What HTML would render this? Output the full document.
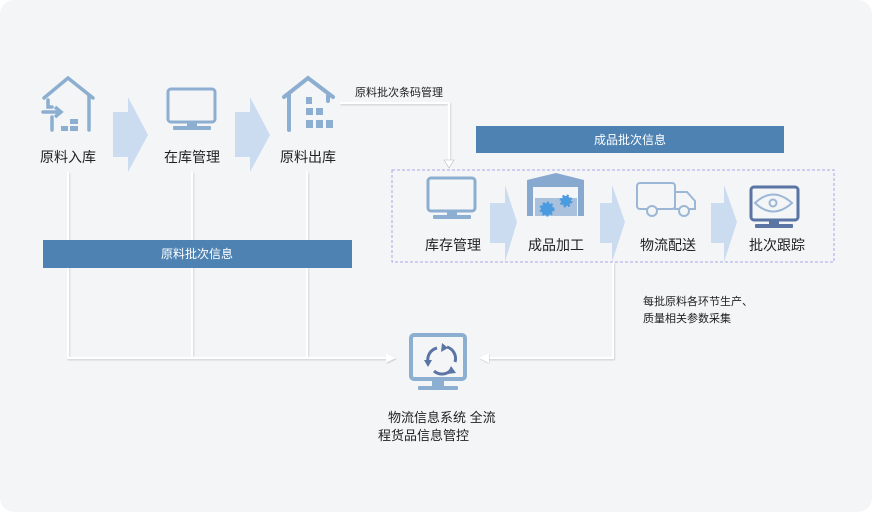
<!DOCTYPE html>
<html><head><meta charset="utf-8"><style>
html,body{margin:0;padding:0;background:#fff;}
svg{display:block;}
text{font-family:"Liberation Sans","Noto Sans CJK SC",sans-serif;fill:#222;}
</style></head><body>
<svg width="872" height="512" viewBox="0 0 872 512" xmlns="http://www.w3.org/2000/svg">
<defs>
<filter id="sh" x="-5%" y="-5%" width="110%" height="110%"><feDropShadow dx="0.6" dy="0.8" stdDeviation="0.6" flood-color="#999" flood-opacity="0.6"/></filter>
</defs>
<rect x="0" y="0" width="872" height="512" rx="14" fill="#f4f5f7"/>

<g fill="#cbdcf1">
<polygon points="113,112 128,112 128,97 148,135 128,172 128,157 113,157"/>
<polygon points="235,112 250,112 250,97 270,135 250,172 250,157 235,157"/>
<polygon points="490,203 505,203 505,185 517,222 505,262 505,243 490,243"/>
<polygon points="600,203 612,203 612,185 625,222 612,262 612,243 600,243"/>
<polygon points="711,203 724,203 724,185 737,222 724,262 724,243 711,243"/>
</g>

<g stroke="#fff" stroke-width="2.5" fill="none" filter="url(#sh)">
<polyline points="68,172 68,358 388,358"/>
<line x1="192" y1="172" x2="192" y2="358"/>
<line x1="307" y1="172" x2="307" y2="358"/>
<polyline points="613,262 613,358 486,358"/>
<polyline points="340,103 449,103 449,162"/>
</g>
<polygon points="386,353 396,358 386,363" fill="#fff" filter="url(#sh)"/>
<polygon points="489,353 479,358 489,363" fill="#fff" filter="url(#sh)"/>
<polygon points="444,160 449,168 454,160" fill="#fff" stroke="#bbb" stroke-width="0.6"/>

<rect x="476" y="126" width="308" height="27" fill="#4d82b3"/>
<text x="630" y="144" text-anchor="middle" font-size="12" style="fill:#fff">成品批次信息</text>
<rect x="43" y="240" width="309" height="28" fill="#4d82b3"/>
<text x="197" y="258" text-anchor="middle" font-size="12" style="fill:#fff">原料批次信息</text>

<rect x="392" y="170" width="442" height="92" fill="none" stroke="#a9a6e8" stroke-width="1" stroke-dasharray="3,2"/>

<g stroke="#8caed0" stroke-width="3.5" fill="none" stroke-linecap="round">
<polyline points="44,98 68,78 93,98"/>
<line x1="89" y1="95" x2="89" y2="130"/>
<polyline points="48,100 48,107 52,107"/>
<line x1="52" y1="117" x2="52" y2="130"/>
<line x1="43" y1="112" x2="59" y2="112"/>
<polyline points="55,107 61,112 55,117" stroke-linecap="butt"/>
</g>
<g fill="#8caed0"><rect x="61" y="126" width="7" height="5"/><rect x="70" y="126" width="8" height="5"/><rect x="70" y="119" width="8" height="5"/></g>

<rect x="168" y="89" width="47" height="33" rx="3" fill="none" stroke="#8caed0" stroke-width="3"/>
<rect x="187" y="122" width="10" height="4" fill="#8caed0"/>
<rect x="173" y="126" width="38" height="4" rx="1" fill="#8caed0"/>

<g stroke="#8caed0" stroke-width="4" fill="none" stroke-linecap="round">
<polyline points="284,97 308,78 333,97"/>
<line x1="289" y1="95" x2="289" y2="130"/>
<line x1="328" y1="96" x2="328" y2="101"/>
</g>
<g fill="#8caed0">
<rect x="306" y="97" width="6" height="7"/><rect x="306" y="108" width="7" height="7"/><rect x="316" y="108" width="7" height="7"/>
<rect x="306" y="120" width="7" height="8"/><rect x="316" y="120" width="7" height="8"/><rect x="326" y="120" width="7" height="8"/>
</g>

<text x="40" y="162" font-size="14">原料入库</text>
<text x="164" y="162" font-size="14">在库管理</text>
<text x="280" y="162" font-size="14">原料出库</text>
<text x="355" y="96" font-size="11">原料批次条码管理</text>

<rect x="428" y="178" width="47" height="33" rx="3" fill="none" stroke="#8caed0" stroke-width="3"/>
<rect x="447" y="211" width="10" height="4" fill="#8caed0"/>
<rect x="433" y="215" width="38" height="4" rx="1" fill="#8caed0"/>

<polygon points="527,180 556,173 584,180 584,216 578,216 578,187 533,187 533,216 527,216" fill="#88a9cf"/>
<rect x="535" y="198" width="42" height="18" fill="#a9c1dd"/>
<circle cx="547" cy="209" r="6" fill="#4a9be0" stroke="#4a9be0" stroke-width="3" stroke-dasharray="2,2"/>
<circle cx="566" cy="201" r="5" fill="#4a9be0" stroke="#4a9be0" stroke-width="3" stroke-dasharray="2,2"/>

<g stroke="#9cb7d6" stroke-width="2" fill="none">
<rect x="637" y="183" width="38" height="26" rx="3"/>
<path d="M675,192 h12 l8,9 v8 h-20z"/>
<circle cx="652" cy="211" r="5" fill="#f4f5f7"/>
<circle cx="684" cy="211" r="5" fill="#f4f5f7"/>
</g>

<rect x="751" y="187" width="47" height="33" rx="3" fill="none" stroke="#5a74a4" stroke-width="3"/>
<path d="M755,203 Q773,186 792,203 Q773,220 755,203z" fill="none" stroke="#9cb7d6" stroke-width="2"/>
<circle cx="773" cy="203" r="3.5" fill="none" stroke="#9cb7d6" stroke-width="2"/>
<rect x="769" y="220" width="10" height="4" fill="#5a74a4"/>
<rect x="755" y="224" width="38" height="4" rx="1" fill="#5a74a4"/>

<text x="425" y="250" font-size="14">库存管理</text>
<text x="528" y="250" font-size="14">成品加工</text>
<text x="640" y="250" font-size="14">物流配送</text>
<text x="749" y="250" font-size="14">批次跟踪</text>

<text x="643" y="305" font-size="11">每批原料各环节生产、</text>
<text x="643" y="322" font-size="11">质量相关参数采集</text>

<rect x="411" y="335" width="54" height="44" rx="3" fill="#f4f5f7" stroke="#8caed0" stroke-width="4"/>
<rect x="432" y="381" width="12" height="5" fill="#8caed0"/>
<rect x="418" y="386" width="40" height="4" rx="1" fill="#8caed0"/>
<g fill="none" stroke="#5a74a4" stroke-width="3">
<path d="M437,348 A12,12 0 0 0 428,362"/>
<path d="M434,371 A12,12 0 0 0 451,370"/>
<path d="M455,362 A12,12 0 0 0 447,347"/>
</g>
<g fill="#5a74a4">
<polygon points="442,343 448,348 441,352"/>
<polygon points="424,360 432,360 428,367"/>
<polygon points="451,366 456,373 447,374"/>
</g>

<text x="388" y="422" font-size="13">物流信息系统 全流</text>
<text x="378" y="440" font-size="13">程货品信息管控</text>
</svg>
</body></html>
